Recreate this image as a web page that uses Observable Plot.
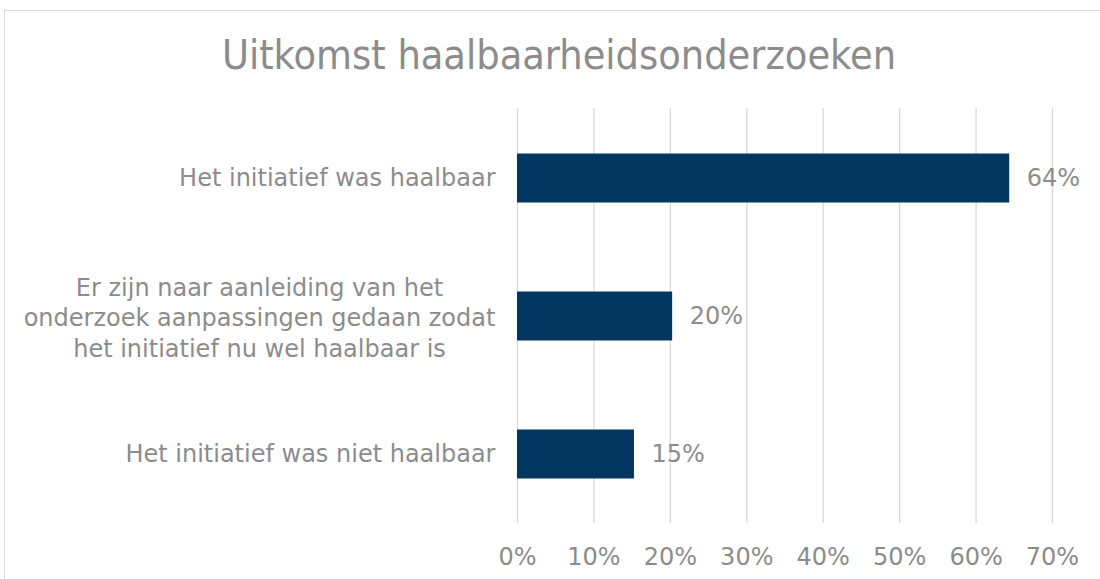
<!DOCTYPE html>
<html>
<head>
<meta charset="utf-8">
<script src="https://cdn.jsdelivr.net/npm/d3@7"></script>
<script src="https://cdn.jsdelivr.net/npm/@observablehq/plot@0.6"></script>
<style>
  html, body { margin: 0; padding: 0; background: #fff; }
  body { width: 1100px; height: 579px; position: relative; overflow: hidden; font-family: "DejaVu Sans", Verdana, sans-serif; }
  #frame { position: absolute; left: 4px; top: 10px; width: 1200px; height: 700px; border: 1px solid #d9d9d9; box-sizing: border-box; }
  #title { position: absolute; left: 0; top: 29px; width: 1118px; text-align: center; font-family: "DejaVu Sans Condensed", "DejaVu Sans", sans-serif; font-stretch: condensed; font-size: 41px; color: #8c8c8c; line-height: 52px; }
  #chart { position: absolute; left: 0; top: 90px; }
</style>
</head>
<body>
<div id="frame"></div>
<div id="title">Uitkomst haalbaarheidsonderzoeken</div>
<div id="chart"></div>
<script>
const categories = [
  "Het initiatief was haalbaar",
  "Er zijn naar aanleiding van het\nonderzoek aanpassingen gedaan zodat\nhet initiatief nu wel haalbaar is",
  "Het initiatief was niet haalbaar"
];
const values = [0.644, 0.203, 0.153];
const xTicks = [0, 0.1, 0.2, 0.3, 0.4, 0.5, 0.6, 0.7];

const data = categories.map((c, i) => ({category: c, value: values[i], multi: c.includes("\n")}));
const fmt = d3.format(".0%");
const textColor = "#8c8c8c";

const chart = Plot.plot({
  width: 1100,
  height: 489,
  marginLeft: 517,
  marginRight: 48,
  marginTop: 18,
  marginBottom: 56,
  style: {fontFamily: "'DejaVu Sans', Verdana, sans-serif", fontSize: "24px", color: textColor, background: "transparent"},
  x: {domain: [0, 0.7], ticks: xTicks},
  y: {domain: categories, padding: 0, axis: null},
  marks: [
    Plot.ruleX(xTicks, {stroke: "#d9d9d9", strokeWidth: 1.3}),
    Plot.barX(data, {x: "value", y: "category", fill: "#023661", insetTop: 44.5, insetBottom: 44.5}),
    Plot.text(data, {x: "value", y: "category", text: d => fmt(d.value), textAnchor: "start", dx: 17, fill: textColor, fontSize: 24}),
    Plot.text(data.filter(d => !d.multi), {x: 0, y: "category", text: "category", textAnchor: "end", dx: -22, fill: textColor, fontSize: 24}),
    Plot.text(data.filter(d => d.multi), {x: 0, y: "category", text: "category", textAnchor: "middle", dx: -258, lineHeight: 1.27, fill: textColor, fontSize: 24}),
    Plot.axisX({ticks: xTicks, tickFormat: fmt, tickSize: 0, tickPadding: 24, fontSize: 24, fill: textColor, label: null})
  ]
});
document.getElementById("chart").appendChild(chart);
</script>
</body>
</html>
